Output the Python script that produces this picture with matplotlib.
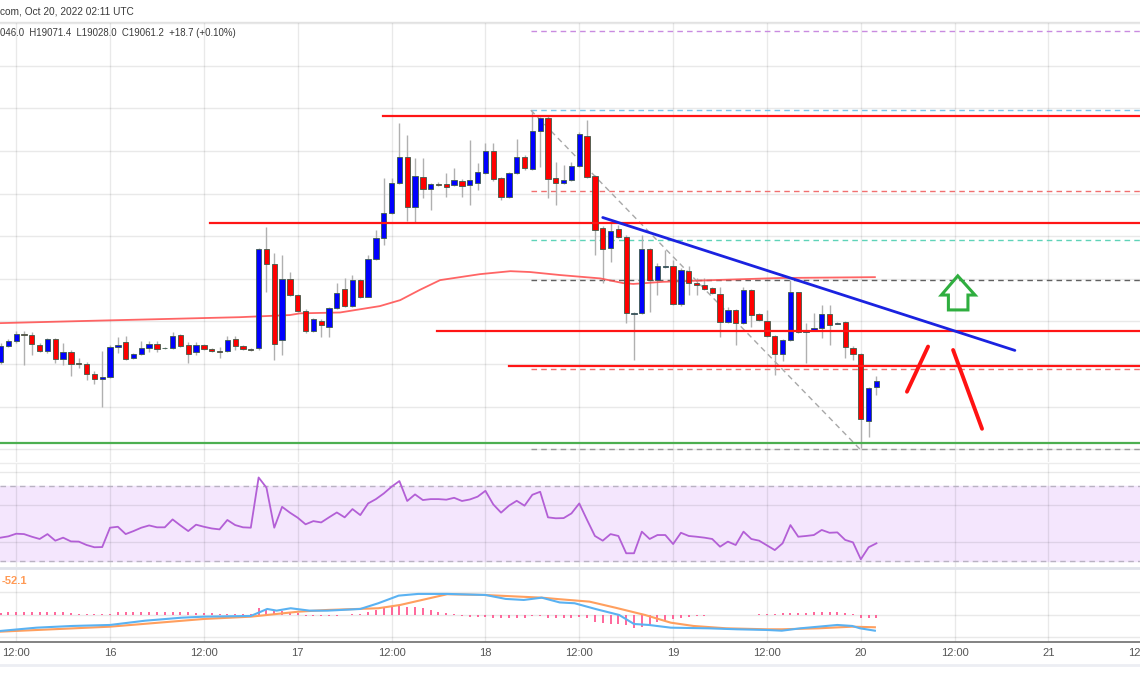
import matplotlib
matplotlib.use('Agg')
import matplotlib.pyplot as plt
from matplotlib.patches import Polygon

plt.rcParams['font.family'] = ['Liberation Sans', 'DejaVu Sans']

# ---------------- data ----------------
candle_hours = list(range(-14, 99))   # hours from Oct 16 00:00 UTC

opens = [19105,19142,19153,19171,19168,19145,19131,19159,19112,19128,
         19103,19100,19077,19066,19070,19140,19152,19114,19124,19138,
         19147,19137,19138,19168,19145,19128,19145,19135,19131,19131,
         19159,19142,19135,19138,19370,19335,19157,19300,19262,19225,
         19178,19202,19188,19232,19276,19236,19297,19258,19347,19396,
         19455,19526,19587,19469,19538,19510,19523,19523,19520,19530,
         19520,19526,19549,19599,19537,19493,19549,19587,19557,19648,
         19677,19536,19526,19532,19565,19636,19541,19419,19372,19417,
         19399,19218,19219,19369,19297,19328,19329,19241,19319,19290,
         19285,19278,19264,19198,19227,19196,19274,19218,19202,19166,
         19124,19157,19268,19176,19180,19185,19218,19195,19198,19138,
         19124,18967,19046.0]
highs = [19150,19159,19177,19177,19175,19150,19162,19161,19150,19133,
         19114,19105,19084,19131,19145,19164,19166,19126,19154,19154,
         19153,19140,19176,19171,19152,19152,19147,19138,19141,19166,
         19166,19145,19138,19372,19422,19361,19356,19317,19265,19229,
         19208,19206,19234,19290,19302,19309,19300,19356,19415,19537,
         19537,19667,19638,19584,19584,19525,19527,19549,19560,19534,
         19626,19573,19619,19619,19539,19551,19628,19591,19696,19680,
         19682,19575,19567,19574,19645,19673,19544,19424,19431,19426,
         19403,19222,19403,19372,19337,19368,19344,19326,19329,19302,
         19302,19281,19282,19234,19229,19282,19276,19220,19227,19168,
         19159,19297,19269,19196,19220,19239,19239,19199,19201,19142,
         19126,19046,19071.4]
lows = [19100,19140,19150,19098,19121,19128,19126,19103,19098,19072,
        19091,19063,19053,19000,19067,19126,19110,19112,19121,19129,
        19129,19135,19135,19140,19103,19121,19133,19128,19114,19128,
        19133,19133,19131,19133,19270,19110,19121,19260,19222,19174,
        19175,19164,19164,19229,19234,19234,19255,19257,19344,19380,
        19452,19523,19436,19431,19490,19462,19518,19492,19518,19492,
        19473,19509,19546,19530,19485,19490,19546,19556,19556,19563,
        19490,19473,19523,19530,19563,19537,19356,19290,19340,19396,
        19196,19110,19218,19223,19262,19326,19239,19236,19262,19262,
        19274,19265,19164,19196,19145,19194,19188,19201,19164,19074,
        19106,19154,19173,19103,19178,19161,19145,19194,19114,19110,
        18902,18929,19028.0]
closes = [19142,19153,19171,19168,19147,19131,19159,19112,19128,19100,
          19100,19077,19065,19069,19140,19145,19112,19124,19138,19147,
          19135,19138,19166,19142,19124,19145,19135,19131,19128,19157,
          19142,19135,19133,19370,19335,19147,19300,19262,19225,19178,
          19206,19192,19232,19267,19236,19297,19258,19347,19396,19455,
          19526,19587,19468,19541,19510,19523,19520,19515,19532,19518,
          19532,19552,19599,19534,19493,19549,19587,19560,19648,19677,
          19534,19526,19532,19565,19639,19540,19415,19369,19413,19399,
          19219,19220,19369,19297,19329,19329,19241,19321,19290,19285,
          19277,19266,19198,19227,19196,19274,19215,19204,19166,19124,
          19157,19268,19176,19178,19185,19218,19192,19196,19141,19124,
          18970,19043,19061.2]

# moving average (hour, price)
ema_hours = [-14.1, -1.3, 16.6, 23, 24.3, 29.4, 34.5, 37.1, 39.6, 42.2, 47.3,
             51.2, 53.7, 57.5, 60.1, 62.7, 65.6, 66.9, 70.7, 77.1, 85.7, 97.8]
ema_vals = [19196, 19202, 19210, 19215, 19219, 19221, 19236, 19250, 19274, 19297,
            19311, 19318, 19316, 19309, 19305, 19301, 19290, 19288, 19293, 19297,
            19302, 19304]

rsi = [42.4,43.1,44.5,44.3,42.9,41.7,44.3,40.8,42.4,40.4,
       40.3,38.5,37.3,37.4,47.7,48.2,44.3,45.9,47.7,48.9,
       47.9,47.9,52.1,48.9,45.9,49.3,48.2,47.3,46.8,51.8,
       49.1,47.9,47.7,74.4,69.0,47.7,58.8,55.7,53.0,49.5,
       51.2,50.5,53.2,55.8,53.2,57.6,54.4,60.6,62.9,65.9,
       69.5,72.5,61.9,65.4,62.4,62.9,62.9,62.6,63.6,61.9,
       62.7,64.2,67.3,60.1,55.7,59.4,62.0,59.4,65.2,66.8,
       53.2,52.7,52.8,55.3,60.6,51.8,43.3,40.8,44.3,43.3,
       34.1,34.1,45.6,41.7,43.8,43.8,39.0,45.0,43.3,42.9,
       42.4,41.7,37.6,40.3,38.5,45.6,41.7,40.8,38.3,35.8,
       39.4,49.1,42.9,43.3,43.8,46.5,45.0,45.2,41.2,39.9,
       30.9,37.3,39.4]

macd_hours = [-14.1, -9.4, -4.8, 0, 4.5, 9.2, 12, 18, 20.1, 21.3, 23.1, 25.5, 27.8, 32,
              34.3, 36.9, 39.4, 43.1, 48, 50.6, 52.9, 55.2, 57.5, 59.4, 62.2, 65.1, 67,
              68.9, 71.7, 76.5, 80.2, 84, 85.9, 88.3, 93, 94.9, 95.9, 97.8]
macd_vals = [-35.6, -28.2, -24.4, -22.2, -12.7, -6, -3.8, -2.2, 13.3, 9.6, 14.9, 9.6, 9.6,
             13.3, 26, 42.9, 46.7, 46.7, 44.4, 35.6, 33.3, 38.4, 27.8, 26, 12.7, 0, -20,
             -22.2, -28.2, -29.6, -31.8, -33.3, -34.9, -29.6, -22.2, -24.4, -29.6, -34.9]
signal_hours = [-14.1, 0, 12, 18, 24.1, 27.8, 34.3, 37.1, 43.1, 47.8, 55.2, 57.5, 61.3,
                64.6, 68.4, 71.7, 74.6, 78.8, 84, 85.9, 90.6, 94.9, 97.8]
signal_vals = [-37.1, -26, -8.9, -3.8, 7.3, 11.1, 14.9, 22.2, 46, 44.4, 38.4, 34.9, 29.6,
               16.2, 0, -17.1, -24.4, -29.6, -31.8, -31.8, -29.6, -26, -27.3]
hist = [3.7,5.9,5.9,5.9,5.9,5.9,7.4,5.9,5.9,3.7,
        3,2.2,1.5,1.5,1.5,5.9,5.9,5.9,7.4,7.4,
        7.4,7.4,7.4,5.9,5.9,5.2,4.4,4.4,3,3,
        3,3,3,14.8,13.3,11.1,8.9,7.4,3.7,-1.5,
        -2.2,-3,-2.2,-1.5,-0.7,1.5,2.2,5.9,11.1,14.8,
        20.7,22.2,18.5,18.5,14.8,11.1,7.4,3.7,1.5,-2.2,
        -3.7,-3.7,-4.4,-5.9,-7.4,-7.4,-5.9,-5.9,-2.2,-1.5,
        -5.9,-7.4,-7.4,-5.9,-3.7,-5.9,-14.8,-18.5,-20.7,-20.7,
        -22.2,-28.1,-25.9,-22.2,-16.3,-13.3,-8.9,-5.9,-3.7,-2.2,
        -1.5,-0.7,-0.7,-0.7,0,0.7,0.7,1.5,2.2,3,
        3.7,4.4,4.4,5.2,5.9,7.4,5.9,5.9,4.4,2.2,
        -5.9,-5.9,-5.9]

tick_hours = [-12, 0, 12, 24, 36, 48, 60, 72, 84, 96, 108, 120, 132]
tick_labels = ['12:00', '16', '12:00', '17', '12:00', '18', '12:00', '19', '12:00', '20',
               '12:00', '21', '12:00']
price_grid = [18900, 19000, 19100, 19200, 19300, 19400, 19500, 19600, 19700, 19800, 19900]

# drawings (hour, price)
red_levels = [(34.9, 19683), (12.8, 19432), (41.8, 19178), (51.0, 19096)]
green_level = 18914
fib_start = 53.8
fib_levels = [(18900, '#9a9a9a'), (19088, '#f07070'), (19298, '#606060'),
              (19391, '#5fd3b8'), (19507, '#f07070'), (19696, '#7cc6ec'), (19882, '#c98be0')]
fib_diag = ([53.8, 95.9], [19696, 18900])
trend_line = ([63.0, 115.7], [19444, 19132])
stroke1 = ([101.9, 104.6], [19035, 19141])
stroke2 = ([107.8, 111.5], [19133, 18948])
arrow_pts = [(108.4, 19307), (110.6, 19262), (109.7, 19262), (109.7, 19227),
             (107.2, 19227), (107.2, 19262), (106.3, 19262)]

# ---------------- figure ----------------
W, H = 1140, 694
fig = plt.figure(figsize=(W / 100, H / 100), dpi=100)


def fy(ypx):
    return 1 - ypx / H


X0, X1 = -14.07, 131.7
ax = fig.add_axes([0, fy(462), 1, (462 - 22) / H])
axr = fig.add_axes([0, fy(567), 1, (567 - 463) / H])
axm = fig.add_axes([0, fy(642), 1, (642 - 569) / H])

GRID = '#e9e9e9'
for a in (ax, axr, axm):
    a.set_xlim(X0, X1)
    for s in a.spines.values():
        s.set_visible(False)
    a.tick_params(left=False, bottom=False, labelleft=False, labelbottom=False)
    for th in tick_hours:
        a.axvline(th, color='#000000', alpha=0.085, lw=1, zorder=0.8)

# ---- main panel ----
ax.set_ylim(18870, 19903)
for p in price_grid:
    ax.axhline(p, color=GRID, lw=1, zorder=0.5)

for h, o, hi, lo, c in zip(candle_hours, opens, highs, lows, closes):
    col = '#0000ff' if c >= o else '#ff0000'
    ax.vlines(h, lo, hi, color='#b0b0b0', lw=1, zorder=2)
    ax.bar(h, max(abs(c - o), 1.6), bottom=min(o, c), width=0.68, color=col,
           edgecolor='#3d5b4a', linewidth=0.6, zorder=3)

ax.plot(ema_hours, ema_vals, color='#ff4a4a', lw=1.3, alpha=0.85, zorder=2.5)

for x0, p in red_levels:
    ax.plot([x0, X1 + 1], [p, p], color='#ff1515', lw=1.6, zorder=4)
ax.axhline(green_level, color='#4caf50', lw=1.6, zorder=4)
for p, col in fib_levels:
    ax.plot([fib_start, X1 + 1], [p, p], color=col, lw=1.0, dashes=(4, 3), zorder=1.5)
ax.plot(*fib_diag, color='#a8a8a8', lw=1.0, dashes=(4, 3), zorder=1.5)
ax.plot(*trend_line, color='#1a22e0', lw=2.0, zorder=5, solid_capstyle='round')
ax.plot(*stroke1, color='#ff1212', lw=2.8, zorder=5, solid_capstyle='round')
ax.plot(*stroke2, color='#ff1212', lw=2.8, zorder=5, solid_capstyle='round')
ax.add_patch(Polygon(arrow_pts, closed=True, fill=False, edgecolor='#2fae3f', lw=2.2, zorder=5))

# ---- RSI panel ----
axr.set_ylim(26.8, 82.1)
axr.axhspan(30, 70, color='#f4e6fd', zorder=0.3)
for lv in (77.3, 60, 40):
    axr.axhline(lv, color='#000000', alpha=0.085, lw=1, zorder=0.8)
for lv in (70, 30):
    axr.axhline(lv, color='#b9b2c2', lw=1, dashes=(4, 3), zorder=1)
axr.plot(candle_hours, rsi, color='#b35fd6', lw=1.3, zorder=3)

# ---- MACD panel ----
axm.set_ylim(-60, 102)
for lv in (50, 0, -50):
    axm.axhline(lv, color=GRID, lw=1, zorder=0.5)
axm.vlines(candle_hours, 0, hist, color='#ff4d8a', lw=1.2, zorder=2)
axm.plot(signal_hours, signal_vals, color='#ff9f5e', lw=1.5, zorder=3)
axm.plot(macd_hours, macd_vals, color='#5ab2f2', lw=1.5, zorder=3)

# ---- separators / axis ----
fig.add_artist(plt.Line2D([0, 1], [fy(22), fy(22)], color='#e2e2e2', lw=1))
fig.add_artist(plt.Line2D([0, 1], [fy(462.5), fy(462.5)], color='#ececec', lw=1))
fig.add_artist(plt.Line2D([0, 1], [fy(568), fy(568)], color='#e0e3eb', lw=2))
fig.add_artist(plt.Line2D([0, 1], [fy(642.3), fy(642.3)], color='#787878', lw=1.3))
fig.add_artist(plt.Line2D([0, 1], [fy(665), fy(665)], color='#eceef3', lw=2))

label_y = -(653 - 642) / 73.0
for th, lab in zip(tick_hours, tick_labels):
    axm.text(th, label_y, lab, transform=axm.get_xaxis_transform(), ha='center', va='center',
             fontsize=8, color='#555555', clip_on=False)

fig.text(0 / W, fy(12), 'com, Oct 20, 2022 02:11 UTC', fontsize=7.3, color='#3a3a3a', va='center')
fig.text(0 / W, fy(33), '046.0  H19071.4  L19028.0  C19061.2  +18.7 (+0.10%)',
         fontsize=6.9, color='#3a3a3a', va='center')
fig.text(2 / W, fy(581), '-52.1', fontsize=8, color='#ff9a55', va='center', fontweight='bold')

fig.savefig('out.png', dpi=100, facecolor='white')
